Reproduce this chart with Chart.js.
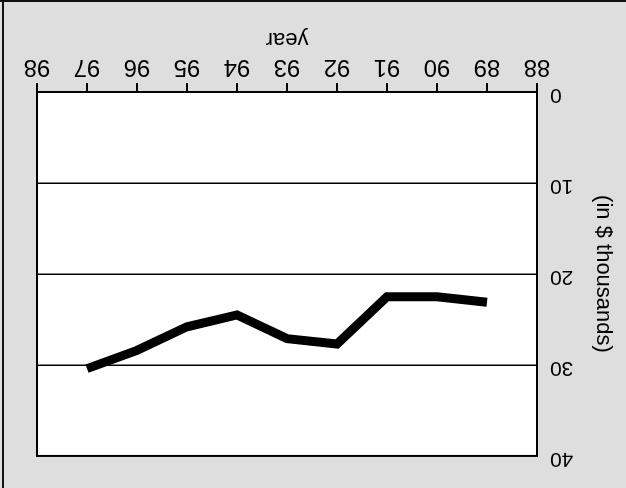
<!DOCTYPE html>
<html>
<head>
<meta charset="utf-8">
<script src="https://cdn.jsdelivr.net/npm/chart.js@4/dist/chart.umd.min.js"></script>
<style>
  html, body { margin: 0; padding: 0; background: #dedede; }
  #wrap { width: 626px; height: 488px; transform: rotate(180deg); }
</style>
</head>
<body>
<div id="wrap"><canvas id="myChart" width="626" height="488"></canvas></div>
<script>
// years on the x axis and income (in $ thousands)
const years = [89, 90, 91, 92, 93, 94, 95, 96, 97];
const income = [23.1, 22.5, 22.5, 27.7, 27.1, 24.5, 25.8, 28.4, 30.4];
const yTicks = [0, 10, 20, 30, 40];

const fontFamily = '"Liberation Sans", Arial, sans-serif';

// gray page behind, white plot, black frame round the plot
const framePlugin = {
  id: 'frame',
  beforeDraw(chart) {
    const ctx = chart.ctx;
    const a = chart.chartArea;
    ctx.save();
    ctx.fillStyle = '#dedede';
    ctx.fillRect(0, 0, chart.width, chart.height);
    ctx.fillStyle = '#ffffff';
    ctx.fillRect(a.left, a.top, a.right - a.left, a.bottom - a.top);
    // outer edge of the picture
    ctx.strokeStyle = '#111';
    ctx.lineWidth = 2;
    ctx.beginPath();
    ctx.moveTo(chart.width - 3, 0);
    ctx.lineTo(chart.width - 3, chart.height - 1);
    ctx.moveTo(0, chart.height - 1);
    ctx.lineTo(chart.width, chart.height - 1);
    ctx.stroke();
    ctx.restore();
  },
  afterDatasetsDraw(chart) {
    const ctx = chart.ctx;
    const a = chart.chartArea;
    ctx.save();
    ctx.strokeStyle = '#000';
    ctx.lineWidth = 2;
    ctx.strokeRect(a.left, a.top, a.right - a.left, a.bottom - a.top);
    ctx.restore();
  }
};

const ctx = document.getElementById('myChart').getContext('2d');
const myChart = new Chart(ctx, {
  type: 'line',
  data: {
    datasets: [{
      data: years.map((y, i) => ({ x: y, y: income[i] })),
      borderColor: '#000',
      borderWidth: 9,
      borderJoinStyle: 'miter',
      pointRadius: 0,
      tension: 0,
      fill: false
    }]
  },
  plugins: [framePlugin],
  options: {
    responsive: false,
    animation: false,
    layout: { padding: { top: 32, right: 37, left: 0, bottom: 0 } },
    plugins: { legend: { display: false }, tooltip: { enabled: false } },
    scales: {
      x: {
        type: 'linear',
        min: 88,
        max: 98,
        afterFit: axis => { axis.height = 92; },
        afterBuildTicks: axis => {
          axis.ticks = [88, 89, 90, 91, 92, 93, 94, 95, 96, 97, 98].map(v => ({ value: v }));
        },
        ticks: {
          color: '#000',
          padding: 2,
          maxRotation: 0,
          autoSkip: false,
          font: { family: fontFamily, size: 24 }
        },
        grid: { drawOnChartArea: false, drawTicks: true, tickLength: 9, color: '#000', lineWidth: 2 },
        border: { display: false },
        title: {
          display: true,
          text: 'year',
          color: '#000',
          padding: { top: 0, bottom: 26 },
          font: { family: fontFamily, size: 22 }
        }
      },
      y: {
        min: 0,
        max: 40,
        afterFit: axis => { axis.width = 89; },
        afterBuildTicks: axis => { axis.ticks = yTicks.map(v => ({ value: v })); },
        ticks: {
          color: '#000',
          padding: 13,
          labelOffset: -3,
          font: { family: fontFamily, size: 21 }
        },
        grid: { drawTicks: false, color: '#000', lineWidth: 1.5 },
        border: { display: false },
        title: {
          display: true,
          text: '(in $ thousands)',
          color: '#000',
          padding: { top: 10, bottom: 0 },
          font: { family: fontFamily, size: 22 }
        }
      }
    }
  }
});
</script>
</body>
</html>
